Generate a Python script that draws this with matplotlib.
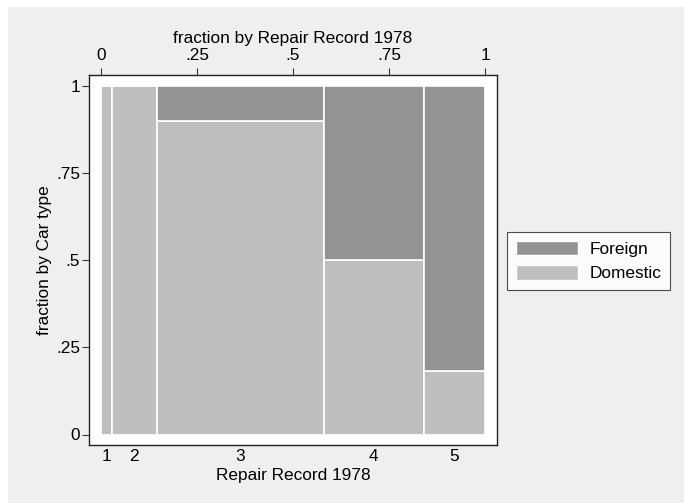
import matplotlib
matplotlib.use("Agg")
import matplotlib.pyplot as plt
from matplotlib.patches import Rectangle, Patch
import numpy as np

plt.rcParams['font.family'] = ['Liberation Sans', 'DejaVu Sans']

categories = ["1", "2", "3", "4", "5"]
domestic = [2, 8, 27, 9, 2]
foreign = [0, 0, 3, 9, 9]
top_ticks = [0, 0.25, 0.5, 0.75, 1]
top_labels = ["0", ".25", ".5", ".75", "1"]
y_ticks = [0, 0.25, 0.5, 0.75, 1]
y_labels = ["0", ".25", ".5", ".75", "1"]

col_foreign = "#939393"
col_domestic = "#bdbebf"
bg = "#eef0ef"
FS = 12.4

W, H = 685, 503
fig = plt.figure(figsize=(W/100, H/100), dpi=100, facecolor="white")
fig.patches.append(Rectangle((8/W, 0), 1 - 9/W, 1 - 7/H, transform=fig.transFigure,
                             facecolor=bg, edgecolor="none", zorder=-10))

# frame pixel box: x 89..497, y 75..445 ; data 0->101,1->485 ; y 1->86, 0->434.5
fl, fr, ft, fb = 89, 497, 75, 445
ax = fig.add_axes([fl/W, 1 - fb/H, (fr-fl)/W, (fb-ft)/H])
ax.set_facecolor("white")

totals = np.array(domestic) + np.array(foreign)
N = totals.sum()
widths = totals / N
lefts = np.concatenate([[0], np.cumsum(widths)[:-1]])
dfrac = np.array(domestic) / totals
ffrac = np.array(foreign) / totals

ax.bar(lefts, dfrac, width=widths, align="edge", color=col_domestic,
       edgecolor="white", linewidth=1.2, label="Domestic")
ax.bar(lefts, ffrac, width=widths, bottom=dfrac, align="edge", color=col_foreign,
       edgecolor="white", linewidth=1.2, label="Foreign")

xs = 485 - 101
ys = 434.5 - 86
ax.set_xlim(-(101 - fl)/xs, 1 + (fr - 485)/xs)
ax.set_ylim(-(fb - 434.5)/ys, 1 + (86 - ft)/ys)

for s in ax.spines.values():
    s.set_color("#222222")
    s.set_linewidth(1.0)

ax.set_yticks(y_ticks)
ax.set_yticklabels(y_labels)
ax.tick_params(axis="y", direction="out", length=5, width=0.8, color="#333333",
               labelsize=FS, pad=1.5)
ax.set_ylabel("fraction by Car type", fontsize=FS, labelpad=3)

ax.set_xticks(lefts + widths / 2)
ax.set_xticklabels(categories)
ax.tick_params(axis="x", bottom=True, length=0, labelsize=FS, pad=3)
ax.set_xlabel("Repair Record 1978", fontsize=FS, labelpad=3)

ax2 = ax.twiny()
ax2.set_xlim(ax.get_xlim())
ax2.set_xticks(top_ticks)
ax2.set_xticklabels(top_labels)
ax2.tick_params(axis="x", direction="out", length=5, width=0.8, color="#333333",
                labelsize=FS, pad=3.5)
ax2.set_xlabel("fraction by Repair Record 1978", fontsize=FS, labelpad=4)
for s in ax2.spines.values():
    s.set_visible(False)

handles = [Patch(facecolor=col_foreign, edgecolor="white", label="Foreign"),
           Patch(facecolor=col_domestic, edgecolor="white", label="Domestic")]
leg = fig.legend(handles=handles, loc="upper left",
                 bbox_to_anchor=(507/W, 1 - 232/H), frameon=True, fancybox=False,
                 fontsize=FS, handlelength=3.6, handleheight=0.95,
                 borderpad=0.5, labelspacing=0.45, handletextpad=0.7,
                 borderaxespad=0)
leg.get_frame().set_edgecolor("#222222")
leg.get_frame().set_linewidth(0.8)

fig.savefig("out.png", dpi=100, facecolor="white")
